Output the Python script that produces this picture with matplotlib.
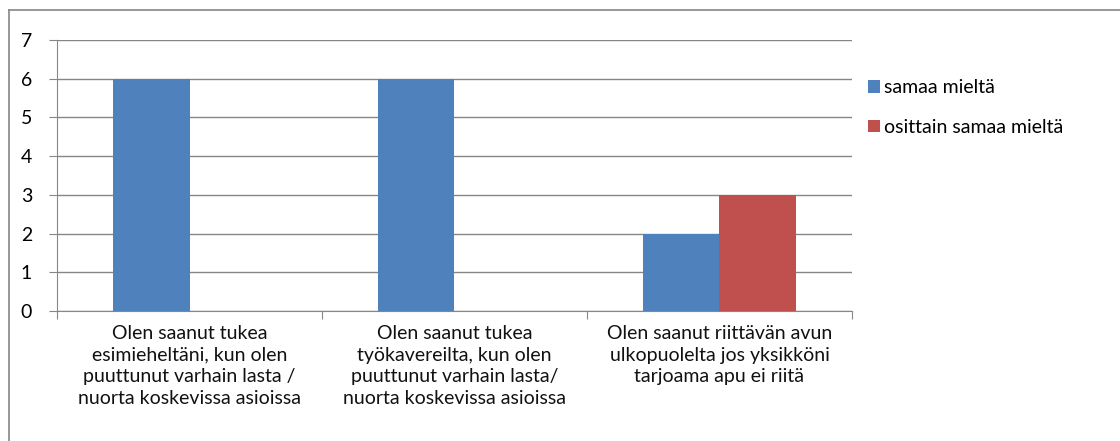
import matplotlib.pyplot as plt
import numpy as np
from matplotlib.lines import Line2D

plt.rcParams['font.family'] = ['Lato', 'DejaVu Sans']

categories = ['Olen saanut tukea\nesimieheltäni, kun olen\npuuttunut varhain lasta /\nnuorta koskevissa asioissa',
              'Olen saanut tukea\ntyökavereilta, kun olen\npuuttunut varhain lasta/\nnuorta koskevissa asioissa',
              'Olen saanut riittävän avun\nulkopuolelta jos yksikköni\ntarjoama apu ei riitä']
series_names = ['samaa mieltä', 'osittain samaa mieltä']
samaa = [6, 6, 2]
osittain = [0, 0, 3]
colors = ['#4F81BD', '#C0504D']

fig = plt.figure(figsize=(11.2, 4.41), dpi=100)
ax = fig.add_axes([0.0509, 0.2948, 0.7098, 0.6145])

x = np.arange(len(categories)) + 0.5
w = 0.287
ax.bar(x - w / 2, samaa, w, color=colors[0], label=series_names[0], zorder=3)
ax.bar(x + w / 2, osittain, w, color=colors[1], label=series_names[1], zorder=3)

ax.set_xlim(0, 3)
ax.set_ylim(0, 7)
ax.set_yticks(range(8))
ax.yaxis.grid(True, color='#868686', linewidth=1)
ax.set_axisbelow(True)
for s in ['top', 'right']:
    ax.spines[s].set_visible(False)
for s in ['left', 'bottom']:
    ax.spines[s].set_color('#868686')
ax.tick_params(axis='y', length=6, color='#868686', labelsize=14, pad=12)

# category boundary ticks on x axis, labels centred between
ax.set_xticks([0, 1, 2, 3])
ax.set_xticklabels([])
ax.tick_params(axis='x', length=6, color='#868686')
for xi, lab in zip(x, categories):
    ax.text(xi, -0.36, lab, ha='center', va='top', fontsize=14, linespacing=1.33,
            color='#111111')

leg = fig.legend(loc='upper left', bbox_to_anchor=(0.768, 0.838), frameon=False,
                 fontsize=14, handlelength=0.6, handleheight=0.6, handletextpad=0.25,
                 labelspacing=1.15, borderaxespad=0)

# outer chart border (only top and left edges are inside the image)
fig.lines.append(Line2D([0.008, 0.008], [0, 0.977], transform=fig.transFigure,
                        color='#868686', linewidth=1.2))
fig.lines.append(Line2D([0.008, 1.0], [0.977, 0.977], transform=fig.transFigure,
                        color='#868686', linewidth=1.2))

fig.savefig('out.png', dpi=100)
